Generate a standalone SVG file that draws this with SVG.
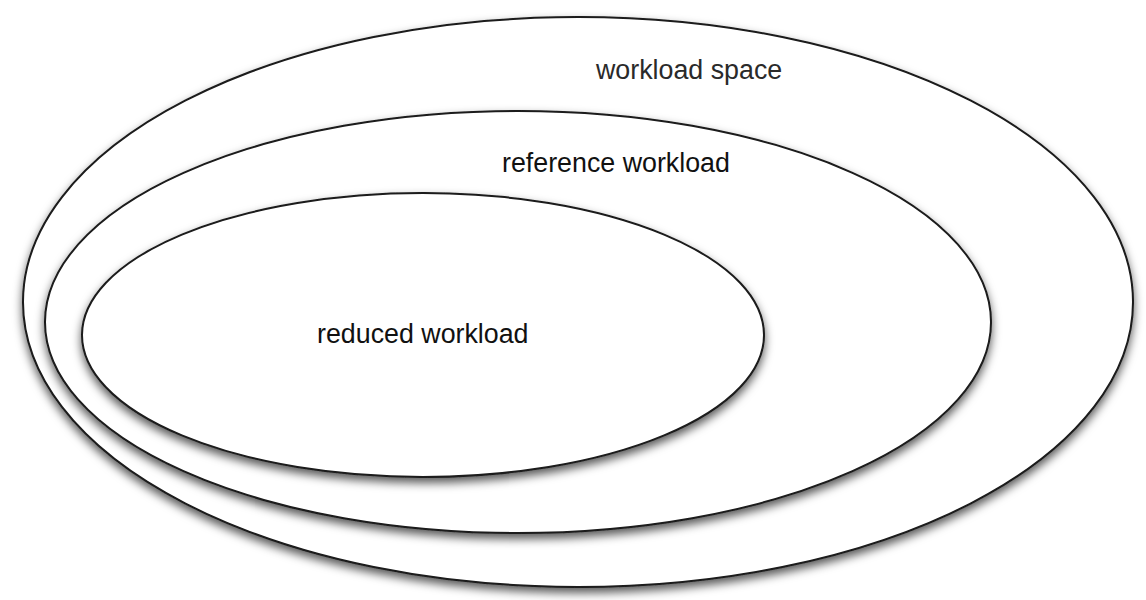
<svg xmlns="http://www.w3.org/2000/svg" width="1146" height="600" viewBox="0 0 1146 600">
  <defs>
    <filter id="shadow" x="-10%" y="-10%" width="120%" height="125%">
      <feDropShadow dx="0" dy="5" stdDeviation="5" flood-color="#000" flood-opacity="0.65"/>
    </filter>
  </defs>
  <style>
    .set { fill: #ffffff; stroke: #1a1a1a; stroke-width: 2; filter: url(#shadow); }
    .label { font-family: "Liberation Sans", Arial, sans-serif; font-size: 26.8px; fill: #111; }
  </style>
  <rect width="1146" height="600" fill="#ffffff"/>
  <g id="workload-space">
    <ellipse class="set" cx="578" cy="302" rx="555" ry="285"/>
    <text class="label" x="596" y="79" style="fill:#2a2a2a">workload space</text>
  </g>
  <g id="reference-workload">
    <ellipse class="set" cx="518" cy="322" rx="473" ry="211"/>
    <text class="label" x="502" y="172">reference workload</text>
  </g>
  <g id="reduced-workload">
    <ellipse class="set" cx="423" cy="335" rx="341" ry="142"/>
    <text class="label" x="317" y="343">reduced workload</text>
  </g>
  <g id="connectors"></g>
</svg>
